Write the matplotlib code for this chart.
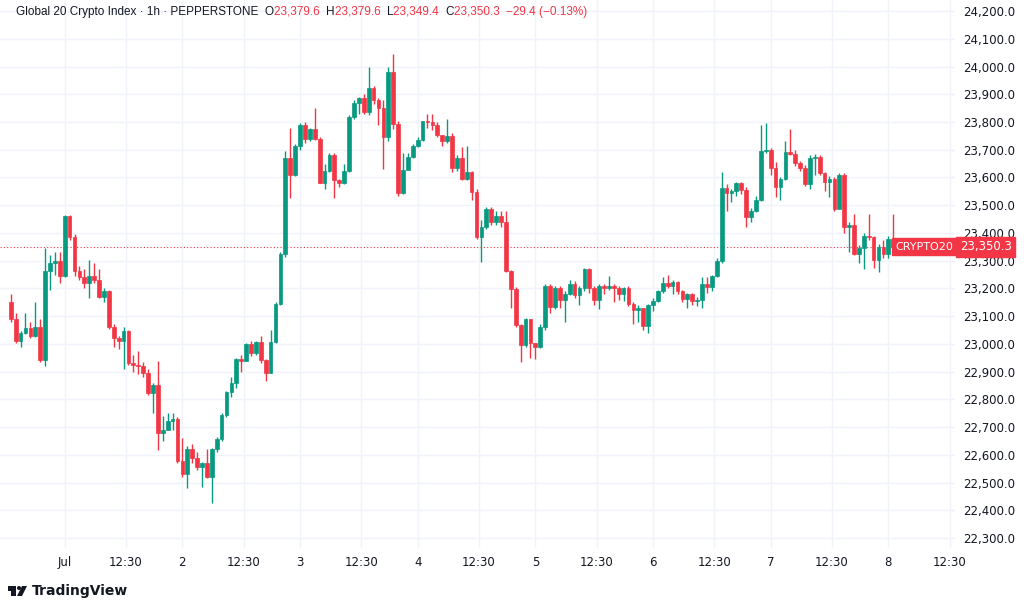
import matplotlib.pyplot as plt
from matplotlib.patches import Rectangle, Polygon, Circle

# hourly candles, Jun 30 13:00 -> Jul 8 ~01:00
closes = [23090, 23010, 23040, 23058, 23030, 23060, 22942, 23263, 23292, 23300,
          23245, 23460, 23385, 23263, 23240, 23220, 23245, 23230, 23170, 23190,
          23060, 23020, 23010, 23046, 22931, 22925, 22920, 22895, 22823, 22850,
          22680, 22690, 22722, 22730, 22578, 22530, 22620, 22590, 22557, 22570,
          22520, 22620, 22657, 22744, 22826, 22860, 22945, 22940, 23000, 22967,
          23007, 22942, 22895, 23007, 23144, 23324, 23670, 23609, 23714, 23790,
          23738, 23775, 23740, 23580, 23624, 23680, 23590, 23580, 23624, 23818,
          23868, 23885, 23836, 23922, 23880, 23850, 23746, 23980, 23793, 23544,
          23627, 23674, 23713, 23736, 23803, 23800, 23790, 23753, 23730, 23750,
          23634, 23670, 23594, 23620, 23548, 23385, 23420, 23486, 23440, 23460,
          23440, 23263, 23198, 23068, 22996, 23090, 23003, 22990, 23060, 23210,
          23133, 23200, 23158, 23180, 23216, 23176, 23200, 23270, 23200, 23158,
          23207, 23200, 23208, 23200, 23180, 23200, 23144, 23122, 23128, 23064,
          23140, 23155, 23190, 23220, 23210, 23222, 23190, 23162, 23180, 23155,
          23160, 23216, 23205, 23245, 23300, 23562, 23544, 23550, 23580, 23556,
          23458, 23480, 23520, 23695, 23700, 23634, 23566, 23595, 23692, 23685,
          23652, 23634, 23576, 23670, 23675, 23616, 23584, 23595, 23486, 23609,
          23421, 23430, 23324, 23345, 23390, 23385, 23302, 23350, 23324, 23379.6,
          23350.3]
first_open = 23151
highs = [23180, 23110, 23045, 23110, 23080, 23150, 23090, 23346, 23320, 23330,
         23330, 23465, 23465, 23395, 23280, 23270, 23302, 23290, 23270, 23200,
         23195, 23070, 23030, 23060, 23050, 22960, 22975, 22935, 22910, 22860,
         22940, 22740, 22750, 22750, 22735, 22660, 22630, 22640, 22610, 22575,
         22620, 22625, 22665, 22750, 22830, 22880, 22950, 22960, 23005, 23010,
         23010, 23030, 22945, 23050, 23150, 23330, 23695, 23778, 23720, 23795,
         23800, 23780, 23850, 23745, 23650, 23690, 23690, 23595, 23650, 23825,
         23880, 23890, 23900, 23998, 23930, 23885, 23880, 24000, 24045, 23805,
         23690, 23690, 23720, 23745, 23805, 23830, 23830, 23800, 23755, 23810,
         23760, 23680, 23710, 23715, 23625, 23560, 23445, 23495, 23495, 23480,
         23480, 23480, 23265, 23205, 23070, 23095, 23090, 23005, 23070, 23215,
         23215, 23210, 23210, 23190, 23230, 23225, 23210, 23275, 23275, 23210,
         23215, 23215, 23245, 23215, 23210, 23205, 23210, 23150, 23140, 23130,
         23145, 23165, 23195, 23240, 23250, 23230, 23225, 23195, 23185, 23185,
         23170, 23240, 23240, 23250, 23310, 23620, 23575, 23560, 23585, 23585,
         23565, 23490, 23535, 23790, 23795, 23705, 23655, 23600, 23730, 23775,
         23700, 23660, 23645, 23680, 23685, 23680, 23620, 23605, 23600, 23615,
         23615, 23440, 23470, 23355, 23400, 23470, 23390, 23360, 23375, 23390,
         23468]
lows = [23080, 23005, 22990, 23035, 23020, 23025, 22935, 22920, 23195, 23250,
        23220, 23240, 23375, 23245, 23230, 23200, 23165, 23220, 23165, 23150,
        23055, 22990, 22980, 22910, 22925, 22900, 22890, 22880, 22815, 22750,
        22617, 22650, 22690, 22690, 22570, 22520, 22480, 22570, 22545, 22485,
        22515, 22425, 22610, 22650, 22735, 22810, 22840, 22900, 22940, 22955,
        22960, 22930, 22865, 22895, 23005, 23140, 23315, 23526, 23605, 23700,
        23725, 23730, 23735, 23580, 23560, 23620, 23526, 23565, 23575, 23620,
        23810, 23830, 23830, 23825, 23865, 23790, 23630, 23730, 23775, 23535,
        23540, 23640, 23670, 23710, 23730, 23780, 23770, 23745, 23715, 23725,
        23620, 23625, 23590, 23590, 23520, 23380, 23295, 23415, 23430, 23430,
        23420, 23260, 23130, 23060, 22935, 22990, 22950, 22945, 22985, 23050,
        23110, 23125, 23130, 23079, 23175, 23165, 23140, 23190, 23185, 23140,
        23125, 23180, 23195, 23150, 23160, 23155, 23135, 23070, 23080, 23050,
        23040, 23120, 23150, 23185, 23200, 23180, 23180, 23150, 23130, 23140,
        23135, 23130, 23185, 23190, 23240, 23290, 23480, 23510, 23535, 23540,
        23420, 23440, 23475, 23515, 23690, 23610, 23530, 23520, 23590, 23680,
        23640, 23625, 23570, 23560, 23610, 23610, 23550, 23530, 23480, 23500,
        23400, 23330, 23320, 23290, 23270, 23375, 23275, 23260, 23310, 23310,
        23349.4]
day_labels = ["Jul", "2", "3", "4", "5", "6", "7", "8"]

opens = [first_open] + closes[:-1]
up_c, dn_c = "#089981", "#F23645"

fig = plt.figure(figsize=(10.24, 6.05), dpi=100)
ax = fig.add_axes([0, 57 / 605, 955 / 1024, 548 / 605])
for i, (o, h, l, c) in enumerate(zip(opens, highs, lows, closes)):
    col = up_c if c >= o else dn_c
    ax.vlines(i, l, h, color=col, linewidth=1, zorder=3)
    ax.add_patch(Rectangle((i - 0.38, min(o, c)), 0.76, max(abs(c - o), 1.5),
                           facecolor=col, edgecolor=col, linewidth=0.5, zorder=4))

ax.set_xlim(-2.2, 192.6)
ax.set_ylim(22264, 24240)
day0 = 11
ticks, labels = [], []
for k, d in enumerate(day_labels):
    ticks += [day0 + 24 * k, day0 + 24 * k + 12.5]
    labels += [d, "12:30"]
ax.set_xticks(ticks)
ax.set_xticklabels(labels)
ax.set_yticks(range(22300, 24201, 100))
ax.set_yticklabels([f"{v:,.1f}" for v in range(22300, 24201, 100)])
ax.yaxis.tick_right()
ax.tick_params(length=0, labelsize=8.5, colors="#131722", pad=6)
ax.grid(True, color="#f0f3fa", linewidth=1)
ax.set_axisbelow(True)
for s in ax.spines.values():
    s.set_visible(False)

last = closes[-1]
ax.axhline(last, color=dn_c, linestyle=(0, (1, 2)), linewidth=0.8, zorder=2)
ax.text(1.005, last, f"{last:,.1f}", transform=ax.get_yaxis_transform(), color="white",
        fontsize=8.5, va="center", ha="left",
        bbox=dict(boxstyle="square,pad=0.3", fc=dn_c, ec=dn_c))
ax.text(0.998, last, "CRYPTO20", transform=ax.get_yaxis_transform(), color="white",
        fontsize=8, va="center", ha="right",
        bbox=dict(boxstyle="square,pad=0.3", fc=dn_c, ec=dn_c), zorder=6)

# header, chained pieces
pieces = [("Global 20 Crypto Index · 1h · PEPPERSTONE  ", "#131722"),
          ("O", "#131722"), ("23,379.6  ", dn_c),
          ("H", "#131722"), ("23,379.6  ", dn_c),
          ("L", "#131722"), ("23,349.4  ", dn_c),
          ("C", "#131722"), ("23,350.3  ", dn_c),
          ("−29.4 (−0.13%)", dn_c)]
prev = fig.text(16 / 1024, 1 - 12 / 605, pieces[0][0], fontsize=8.5,
                color=pieces[0][1], va="center", family="Liberation Sans")
for txt, col in pieces[1:]:
    prev = fig.text(0, 0, txt, fontsize=8.5, color=col, va="center",
                    family="Liberation Sans")
    prev.set_position((0, 0))
    prev.set_transform(fig.transFigure)
    prev = prev
    # place right after previous piece
fig.canvas.draw()
r = fig.canvas.get_renderer()
texts = fig.texts[-len(pieces):]
xcur = 16
for t in texts:
    t.set_position((xcur / 1024, 1 - 12 / 605))
    bb = t.get_window_extent(r)
    xcur += bb.width

# logo
lax = fig.add_axes([8 / 1024, 8 / 605, 20 / 1024, 12 / 605])
lax.set_xlim(0, 20)
lax.set_ylim(0, 12)
lax.axis("off")
lax.add_patch(Rectangle((0, 6), 8, 5, fc="#131722"))
lax.add_patch(Rectangle((3, 1), 5, 6, fc="#131722"))
lax.add_patch(Circle((11, 9), 2, fc="#131722"))
lax.add_patch(Polygon([(9, 1), (14, 11), (19, 11), (14, 1)], fc="#131722"))
fig.text(32 / 1024, 14 / 605, "TradingView", fontsize=10, color="#131722",
         va="center", fontweight="bold")

fig.savefig("out.png", dpi=100)
